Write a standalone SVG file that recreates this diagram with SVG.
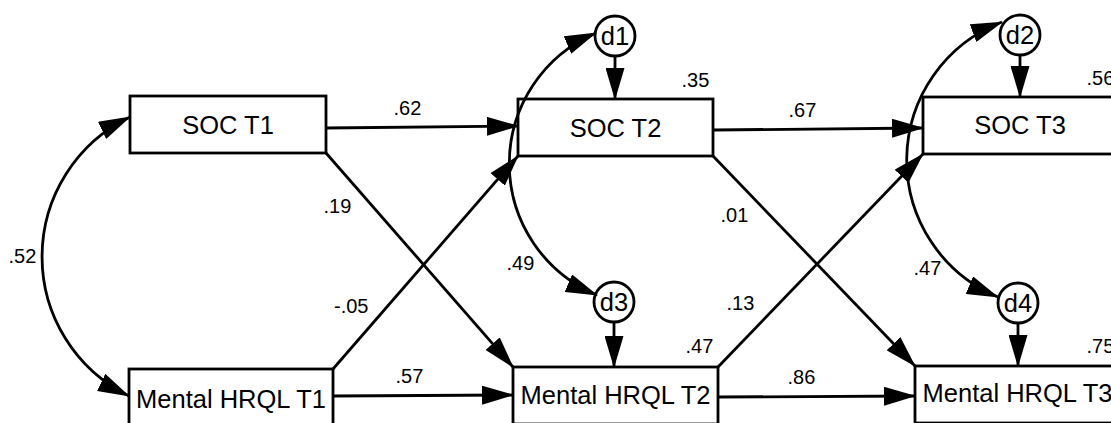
<svg xmlns="http://www.w3.org/2000/svg" width="1111" height="423" viewBox="0 0 1111 423">
<style>
.box{fill:#fff;stroke:#000;stroke-width:2.8}
.circ{fill:#fff;stroke:#000;stroke-width:2.8}
.node{font-family:"Liberation Sans",Arial,sans-serif;font-size:25.5px;fill:#000;text-anchor:middle}
.lbl{font-family:"Liberation Sans",Arial,sans-serif;font-size:20px;fill:#000}
.c{fill:none;stroke:#000;stroke-width:2.8}
</style>
<defs>
<marker id="ah" viewBox="0 0 32 19" refX="31" refY="9.5" markerWidth="32" markerHeight="19" markerUnits="userSpaceOnUse" orient="auto-start-reverse">
<path d="M0,0 L32,9.5 L0,19 z" fill="#000"/>
</marker>
</defs>
<g id="soc-t1"><rect class="box" x="130" y="96" width="196" height="57"/><text class="node" x="228" y="133.5">SOC T1</text></g>
<g id="mhrql-t1"><rect class="box" x="129" y="369" width="204" height="57"/><text class="node" x="231" y="408">Mental HRQL T1</text></g>
<g id="soc-t2"><rect class="box" x="518" y="99" width="195" height="57"/><text class="node" x="615.5" y="136.5">SOC T2</text></g>
<g id="mhrql-t2"><rect class="box" x="513" y="367" width="205" height="57"/><text class="node" x="615.5" y="403.5">Mental HRQL T2</text></g>
<g id="soc-t3"><rect class="box" x="923" y="97" width="195" height="57"/><text class="node" x="1020" y="134">SOC T3</text></g>
<g id="mhrql-t3"><rect class="box" x="915" y="366" width="205" height="57"/><text class="node" x="1017.5" y="401.5">Mental HRQL T3</text></g>
<g id="d1"><circle class="circ" cx="615" cy="36" r="20"/><text class="node" x="615" y="45">d1</text></g>
<g id="d2"><circle class="circ" cx="1020" cy="35" r="20"/><text class="node" x="1020" y="43.5">d2</text></g>
<g id="d3"><circle class="circ" cx="614" cy="302" r="20"/><text class="node" x="614" y="310.5">d3</text></g>
<g id="d4"><circle class="circ" cx="1018" cy="303" r="20"/><text class="node" x="1018" y="311.5">d4</text></g>
<g id="connectors">
<line class="c" x1="326" y1="128" x2="518" y2="126" marker-end="url(#ah)"/>
<line class="c" x1="333" y1="396" x2="513" y2="395" marker-end="url(#ah)"/>
<line class="c" x1="326" y1="153" x2="513" y2="367" marker-end="url(#ah)"/>
<line class="c" x1="333" y1="369" x2="518" y2="156" marker-end="url(#ah)"/>
<line class="c" x1="713" y1="130" x2="923" y2="128" marker-end="url(#ah)"/>
<line class="c" x1="713" y1="156" x2="915" y2="366" marker-end="url(#ah)"/>
<line class="c" x1="718" y1="367" x2="923" y2="154" marker-end="url(#ah)"/>
<line class="c" x1="718" y1="397" x2="915" y2="396" marker-end="url(#ah)"/>
<line class="c" x1="615" y1="57" x2="615" y2="99" marker-end="url(#ah)"/>
<line class="c" x1="614" y1="323" x2="614" y2="367" marker-end="url(#ah)"/>
<line class="c" x1="1020" y1="56" x2="1020" y2="97" marker-end="url(#ah)"/>
<line class="c" x1="1018" y1="324" x2="1018" y2="366" marker-end="url(#ah)"/>
<path class="c" d="M130,117 A155,155 0 0 0 129,396" marker-start="url(#ah)" marker-end="url(#ah)"/>
<path class="c" d="M596,33 A142,142 0 0 0 597,295" marker-start="url(#ah)" marker-end="url(#ah)"/>
<path class="c" d="M1002,22 A148,148 0 0 0 998,297" marker-start="url(#ah)" marker-end="url(#ah)"/>
</g>
<g id="labels">
<text class="lbl" x="8.5" y="263">.52</text>
<text class="lbl" x="393.5" y="115">.62</text>
<text class="lbl" x="323.5" y="213">.19</text>
<text class="lbl" x="334" y="313">-.05</text>
<text class="lbl" x="395.5" y="383">.57</text>
<text class="lbl" x="681.5" y="87">.35</text>
<text class="lbl" x="506.5" y="270">.49</text>
<text class="lbl" x="685.5" y="353">.47</text>
<text class="lbl" x="720.5" y="222">.01</text>
<text class="lbl" x="726.5" y="310">.13</text>
<text class="lbl" x="788.5" y="117">.67</text>
<text class="lbl" x="787.5" y="384">.86</text>
<text class="lbl" x="1086.5" y="85">.56</text>
<text class="lbl" x="913.5" y="275">.47</text>
<text class="lbl" x="1086.5" y="353">.75</text>
</g>
</svg>
